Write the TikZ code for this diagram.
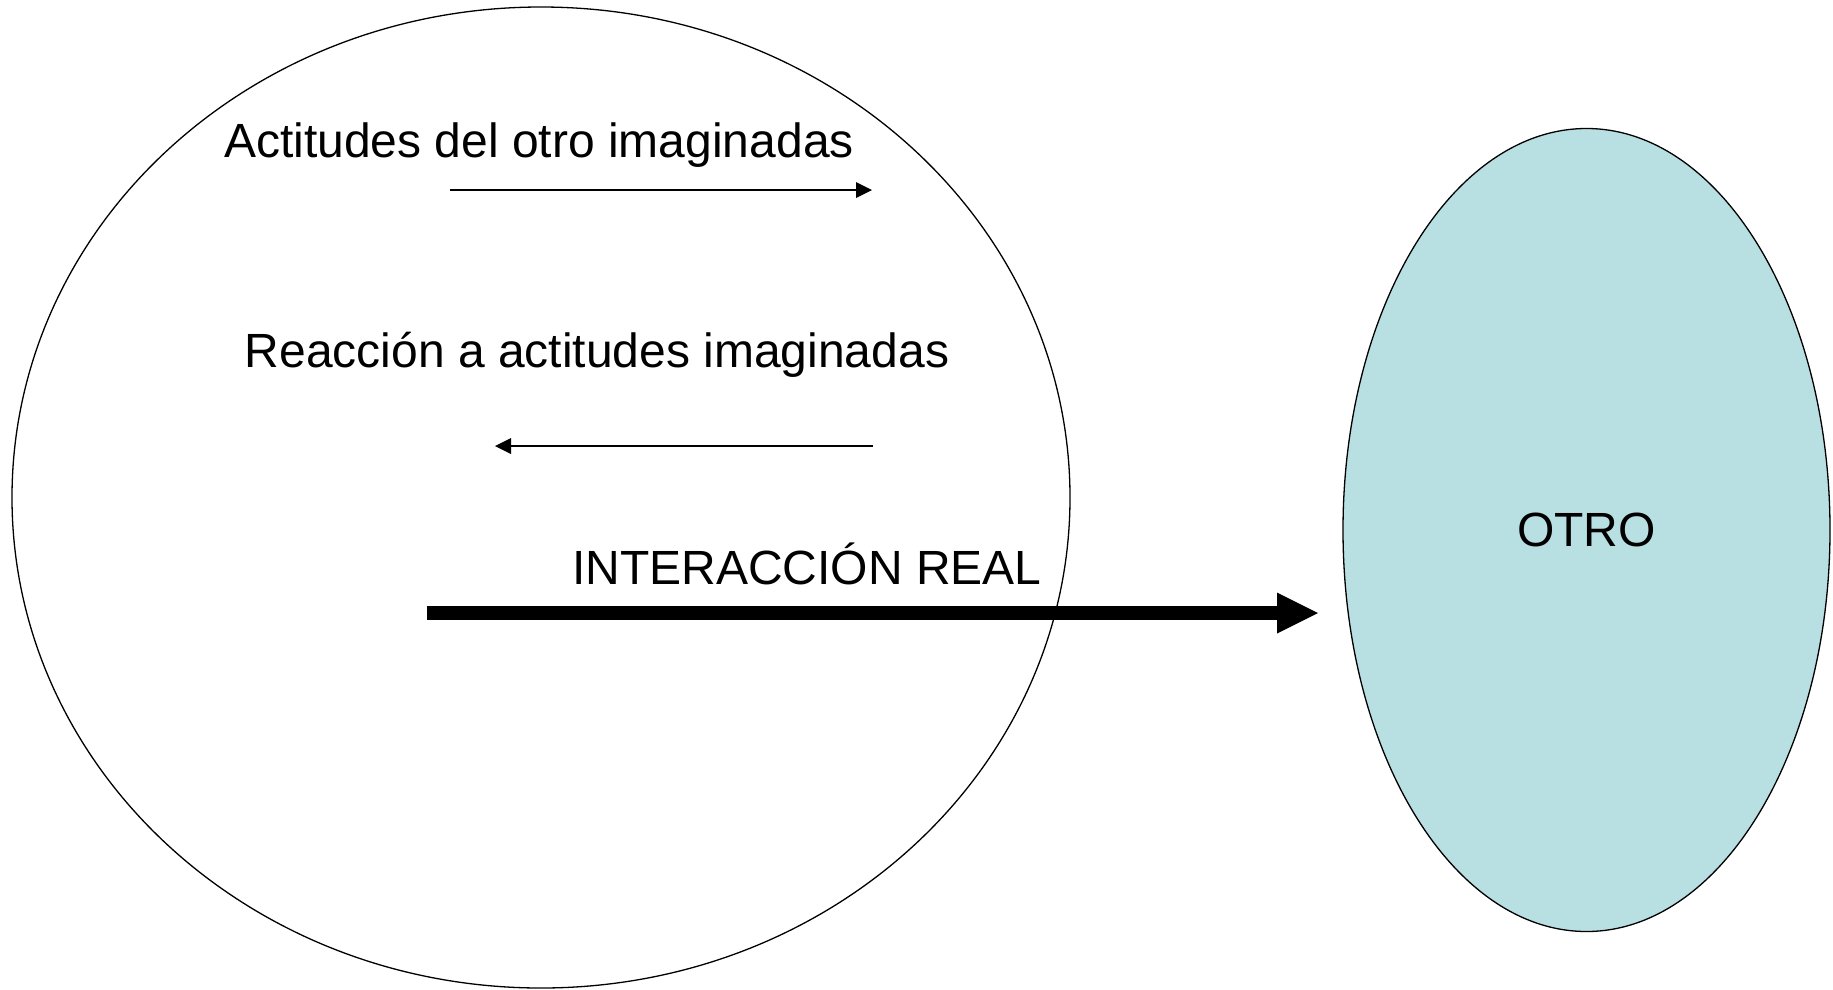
\documentclass[tikz,border=0pt]{standalone}
\usepackage{fontspec}
\setmainfont{Liberation Sans}
\usetikzlibrary{positioning,shapes.geometric,arrows.meta}

\definecolor{otrofill}{RGB}{184,223,226}

\tikzset{
  yoshape/.style={ellipse, draw, line width=1.3pt, inner sep=0pt},
  otroshape/.style={ellipse, draw, line width=1.3pt, fill=otrofill, inner sep=0pt},
  etiqueta/.style={anchor=base, inner sep=0pt, font=\fontsize{48pt}{58pt}\selectfont},
  flecha/.style={line width=2.5pt, -{Triangle[length=16pt,width=16pt,line width=0pt 0]}},
  flechareal/.style={line width=14pt, -{Triangle[length=41pt,width=41pt,line width=0pt 0]}}
}

\begin{document}
\begin{tikzpicture}[x=1pt,y=-1pt]
  \useasboundingbox (0,0) rectangle (1833,989);
  % the two ellipses
  \node[yoshape, minimum width=1058pt, minimum height=981pt] (yo) at (541,497.5) {};
  \node[otroshape, minimum width=487pt, minimum height=803pt,
        font=\fontsize{48pt}{58pt}\selectfont] (otro) at (1586.5,530) {OTRO};
  % labels
  \node[etiqueta] (actitudes) at (539,157) {Actitudes del otro imaginadas};
  \node[etiqueta] (reaccion) at (597,367) {Reacción a actitudes imaginadas};
  \node[etiqueta] (real) at (807,584) {INTERACCIÓN REAL};
  % arrow ends
  \coordinate (a1s) at (450,190);
  \coordinate (a1e) at (872,190);
  \coordinate (a2s) at (873,446);
  \coordinate (a2e) at (495,446);
  \coordinate (rs) at (427,613);
  \coordinate (re) at (1318,613);
  \draw[flecha] (a1s) -- (a1e);
  \draw[flecha] (a2s) -- (a2e);
  \draw[flechareal] (rs) -- (re);
\end{tikzpicture}
\end{document}
